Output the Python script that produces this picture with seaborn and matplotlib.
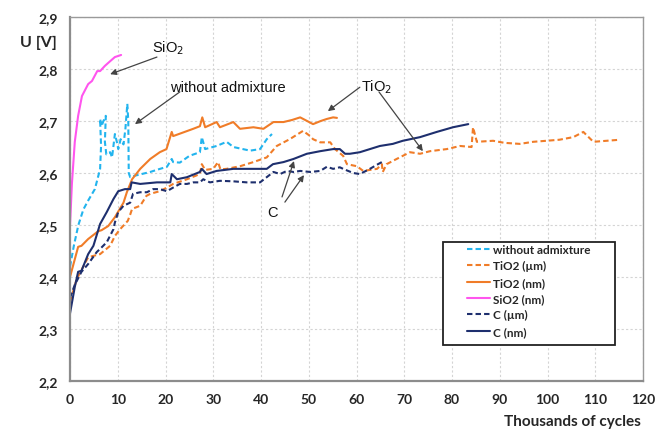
import matplotlib
matplotlib.use("Agg")
import matplotlib.pyplot as plt
from matplotlib.patches import Rectangle
from matplotlib.ticker import FuncFormatter, MultipleLocator
import seaborn as sns
import pandas as pd

# ---- measured voltage curves (x in thousands of cycles, U in volts) ----
plain_x = [0, 0.8, 1.75, 2.8, 3.8, 5.2, 5.8, 6.3, 6.5, 6.3, 6.6, 7.0, 7.5, 7.3, 7.6,
           8.4, 8.8, 9.4, 9.8, 10.1, 10.6, 11.2, 11.6, 12.0, 12.2, 12.3, 12.6, 13.2,
           15.0, 16.8, 18.5, 20.3, 21.3, 21.6, 23.0, 25.0, 27.2, 27.6, 28.3, 30.7,
           32.8, 34.2, 37.7, 39.8, 41.2, 42.3]
plain_y = [2.42, 2.46, 2.50, 2.53, 2.547, 2.569, 2.59, 2.608, 2.652, 2.704, 2.69, 2.70,
           2.71, 2.66, 2.636, 2.64, 2.63, 2.675, 2.66, 2.646, 2.665, 2.655, 2.685, 2.733,
           2.70, 2.60, 2.592, 2.594, 2.598, 2.602, 2.607, 2.612, 2.627, 2.621, 2.62,
           2.633, 2.64, 2.669, 2.646, 2.652, 2.66, 2.65, 2.643, 2.646, 2.665, 2.675]

tio2_um_x = [0, 1.4, 3.8, 6.3, 8.4, 9.4, 10.5, 12.1, 12.6, 13.0, 14.7, 16.0, 16.8,
             18.8, 20.3, 21.6, 24.5, 27.2, 27.6, 28.3, 30.0, 31.0, 31.5, 32.8, 35.6,
             38.4, 41.2, 43.3, 46.0, 48.8, 50.3, 50.9, 52.4, 54.5, 55.5, 57.2, 58.0,
             60.1, 61.4, 64.3, 65.3, 65.5, 66.3, 68.4, 71.2, 73.3, 75.4, 78.9, 81.7,
             84.1, 84.4, 85.2, 88.6, 91.0, 94.2, 97.0, 99.8, 102.5, 105.4, 107.5,
             109.6, 112.4, 115.2]
tio2_um_y = [2.352, 2.396, 2.438, 2.444, 2.46, 2.479, 2.492, 2.508, 2.52, 2.531, 2.537,
             2.556, 2.56, 2.565, 2.572, 2.579, 2.588, 2.598, 2.617, 2.606, 2.608, 2.621,
             2.607, 2.608, 2.613, 2.621, 2.63, 2.652, 2.665, 2.681, 2.671, 2.665, 2.659,
             2.659, 2.646, 2.633, 2.617, 2.613, 2.604, 2.608, 2.617, 2.602, 2.617, 2.627,
             2.64, 2.637, 2.642, 2.646, 2.652, 2.65, 2.688, 2.66, 2.662, 2.658, 2.656,
             2.66, 2.662, 2.664, 2.669, 2.679, 2.66, 2.662, 2.664]

tio2_nm_x = [0, 1.7, 2.4, 3.8, 5.9, 6.6, 8.0, 9.4, 11.2, 11.9, 13.0, 14.7, 16.8, 18.8,
             20.2, 21.3, 21.6, 23.7, 25.8, 27.2, 27.7, 28.3, 30.7, 31.4, 34.2, 35.6,
             38.4, 40.5, 42.6, 44.7, 46.5, 48.2, 50.9, 52.5, 53.8, 55.1, 55.9]
tio2_nm_y = [2.40, 2.458, 2.46, 2.473, 2.488, 2.49, 2.498, 2.515, 2.543, 2.563, 2.588,
             2.608, 2.627, 2.64, 2.646, 2.679, 2.671, 2.678, 2.685, 2.69, 2.707, 2.688,
             2.698, 2.688, 2.698, 2.685, 2.688, 2.685, 2.698, 2.698, 2.702, 2.707,
             2.694, 2.70, 2.704, 2.707, 2.706]

sio2_nm_x = [0, 0.4, 1.0, 1.7, 2.5, 3.8, 4.6, 5.7, 6.3, 7.3, 8.4, 9.4, 10.7]
sio2_nm_y = [2.50, 2.58, 2.66, 2.71, 2.748, 2.771, 2.777, 2.796, 2.796, 2.806, 2.815,
             2.823, 2.827]

c_um_x = [0, 1.0, 2.4, 3.8, 5.6, 6.3, 7.7, 9.1, 9.4, 10.1, 11.2, 12.6, 13.2, 14.7,
          16.1, 17.4, 18.8, 20.3, 21.6, 23.0, 24.5, 25.8, 27.2, 27.9, 29.3, 31.4,
          34.2, 37.0, 39.8, 41.2, 42.6, 44.0, 45.4, 46.8, 48.2, 50.3, 52.4, 53.8,
          55.1, 56.5, 57.2, 59.3, 60.7, 62.8, 64.5, 65.3]
c_um_y = [2.36, 2.385, 2.41, 2.425, 2.448, 2.454, 2.467, 2.492, 2.505, 2.525, 2.537,
          2.543, 2.56, 2.563, 2.563, 2.569, 2.569, 2.565, 2.572, 2.579, 2.579, 2.582,
          2.582, 2.588, 2.582, 2.585, 2.584, 2.582, 2.582, 2.592, 2.602, 2.598,
          2.604, 2.602, 2.604, 2.602, 2.604, 2.612, 2.608, 2.611, 2.608, 2.600,
          2.598, 2.608, 2.617, 2.621]

c_nm_x = [0, 1.0, 1.7, 2.4, 3.8, 4.9, 6.3, 7.7, 9.1, 10.1, 11.5, 12.6, 12.9, 14.7,
          18.2, 21.0, 21.3, 22.4, 24.5, 27.2, 27.6, 28.6, 30.7, 34.2, 37.7, 41.2,
          42.5, 44.7, 46.8, 49.6, 52.4, 55.1, 56.5, 57.6, 58.6, 60.7, 64.9, 67.6,
          69.7, 73.3, 76.8, 80.2, 83.4]
c_nm_y = [2.33, 2.381, 2.41, 2.412, 2.444, 2.46, 2.502, 2.525, 2.55, 2.565, 2.569,
          2.569, 2.582, 2.579, 2.582, 2.582, 2.598, 2.588, 2.592, 2.602, 2.608, 2.598,
          2.604, 2.608, 2.608, 2.608, 2.617, 2.621, 2.627, 2.637, 2.642, 2.646,
          2.646, 2.637, 2.637, 2.640, 2.652, 2.656, 2.662, 2.669, 2.679, 2.688, 2.694]

DASH = (0, (2.6, 1.5))
series = [
    ("without admixture", plain_x, plain_y, "#22b4ee", DASH),
    ("TiO2 (µm)", tio2_um_x, tio2_um_y, "#f07c28", DASH),
    ("TiO2 (nm)", tio2_nm_x, tio2_nm_y, "#f07c28", "-"),
    ("SiO2 (nm)", sio2_nm_x, sio2_nm_y, "#ff55ee", "-"),
    ("C (µm)", c_um_x, c_um_y, "#1e2f6e", DASH),
    ("C (nm)", c_nm_x, c_nm_y, "#1e2f6e", "-"),
]

sns.set_style("white")
plt.rcParams["font.family"] = ["Lato", "DejaVu Sans"]

fig = plt.figure(figsize=(6.55, 4.31), dpi=100)
ax = fig.add_axes([0.1069, 0.1137, 0.8748, 0.8445])

for name, xs, ys, col, ls in series:
    df = pd.DataFrame({"cycles": xs, "U": ys})
    sns.lineplot(data=df, x="cycles", y="U", ax=ax, color=col, linestyle=ls,
                 linewidth=1.5, estimator=None, sort=False, label=name)

ax.set_xlim(0, 120)
ax.set_ylim(2.2, 2.9)
ax.xaxis.set_major_locator(MultipleLocator(10))
ax.yaxis.set_major_locator(MultipleLocator(0.1))
ax.yaxis.set_major_formatter(FuncFormatter(lambda v, p: f"{v:.1f}".replace(".", ",")))
ax.xaxis.set_major_formatter(FuncFormatter(lambda v, p: f"{v:.0f}"))
ax.grid(True, color="#d4d4d4", linestyle=(0, (2, 2)), linewidth=0.8)
ax.set_axisbelow(True)

for side in ("left", "bottom"):
    ax.spines[side].set_color("#8c8c8c")
    ax.spines[side].set_linewidth(1.6)
for side in ("top", "right"):
    ax.spines[side].set_color("#9a9a9a")
    ax.spines[side].set_linewidth(1.0)

ax.tick_params(axis="both", which="major", length=4, width=1, color="#8c8c8c",
               labelsize=10, direction="out", pad=5)
for lab in ax.get_xticklabels() + ax.get_yticklabels():
    lab.set_fontweight("bold")

ax.set_xlabel("")
ax.set_ylabel("")
fig.text(0.058, 0.90, "U [V]", fontsize=11.5, fontweight="bold", ha="center", va="center")
fig.text(0.874, 0.021, "Thousands of cycles", fontsize=11, fontweight="bold",
         ha="center", va="center")

# legend box with the entries placed inside it
ax.add_patch(Rectangle((0.651, 0.099), 0.300, 0.283, transform=ax.transAxes,
                       facecolor="white", edgecolor="#222222", linewidth=1.3,
                       zorder=4.5))
leg = ax.legend(loc="upper left", bbox_to_anchor=(0.693, 0.376), frameon=False,
                prop={"weight": "bold", "size": 8.5}, handlelength=1.9,
                handletextpad=0.3, labelspacing=0.45, borderpad=0.0,
                borderaxespad=0.0)
leg.set_zorder(5)

# callouts naming the admixtures
ann = dict(fontsize=10.5, family=["Liberation Sans", "DejaVu Sans"], color="#111111",
           ha="center", va="center")
arrow = dict(arrowstyle="-|>", color="#444444", lw=0.9, mutation_scale=9,
             shrinkA=0, shrinkB=0)
ax.text(20.5, 2.842, "SiO$_2$", **ann)
ax.annotate("", xy=(8.4, 2.79), xytext=(18.2, 2.823), arrowprops=arrow)
ax.text(33.1, 2.765, "without admixture", **ann)
ax.annotate("", xy=(13.6, 2.694), xytext=(23.0, 2.756), arrowprops=arrow)
ax.text(64.3, 2.767, "TiO$_2$", **ann)
ax.annotate("", xy=(54.0, 2.719), xytext=(60.7, 2.765), arrowprops=arrow)
ax.annotate("", xy=(73.9, 2.642), xytext=(64.7, 2.756), arrowprops=arrow)
ax.text(42.5, 2.525, "C", **ann)
ax.annotate("", xy=(46.9, 2.623), xytext=(44.4, 2.554), arrowprops=arrow)
ax.annotate("", xy=(49.0, 2.596), xytext=(45.0, 2.544), arrowprops=arrow)

fig.savefig("out.png", dpi=100)
